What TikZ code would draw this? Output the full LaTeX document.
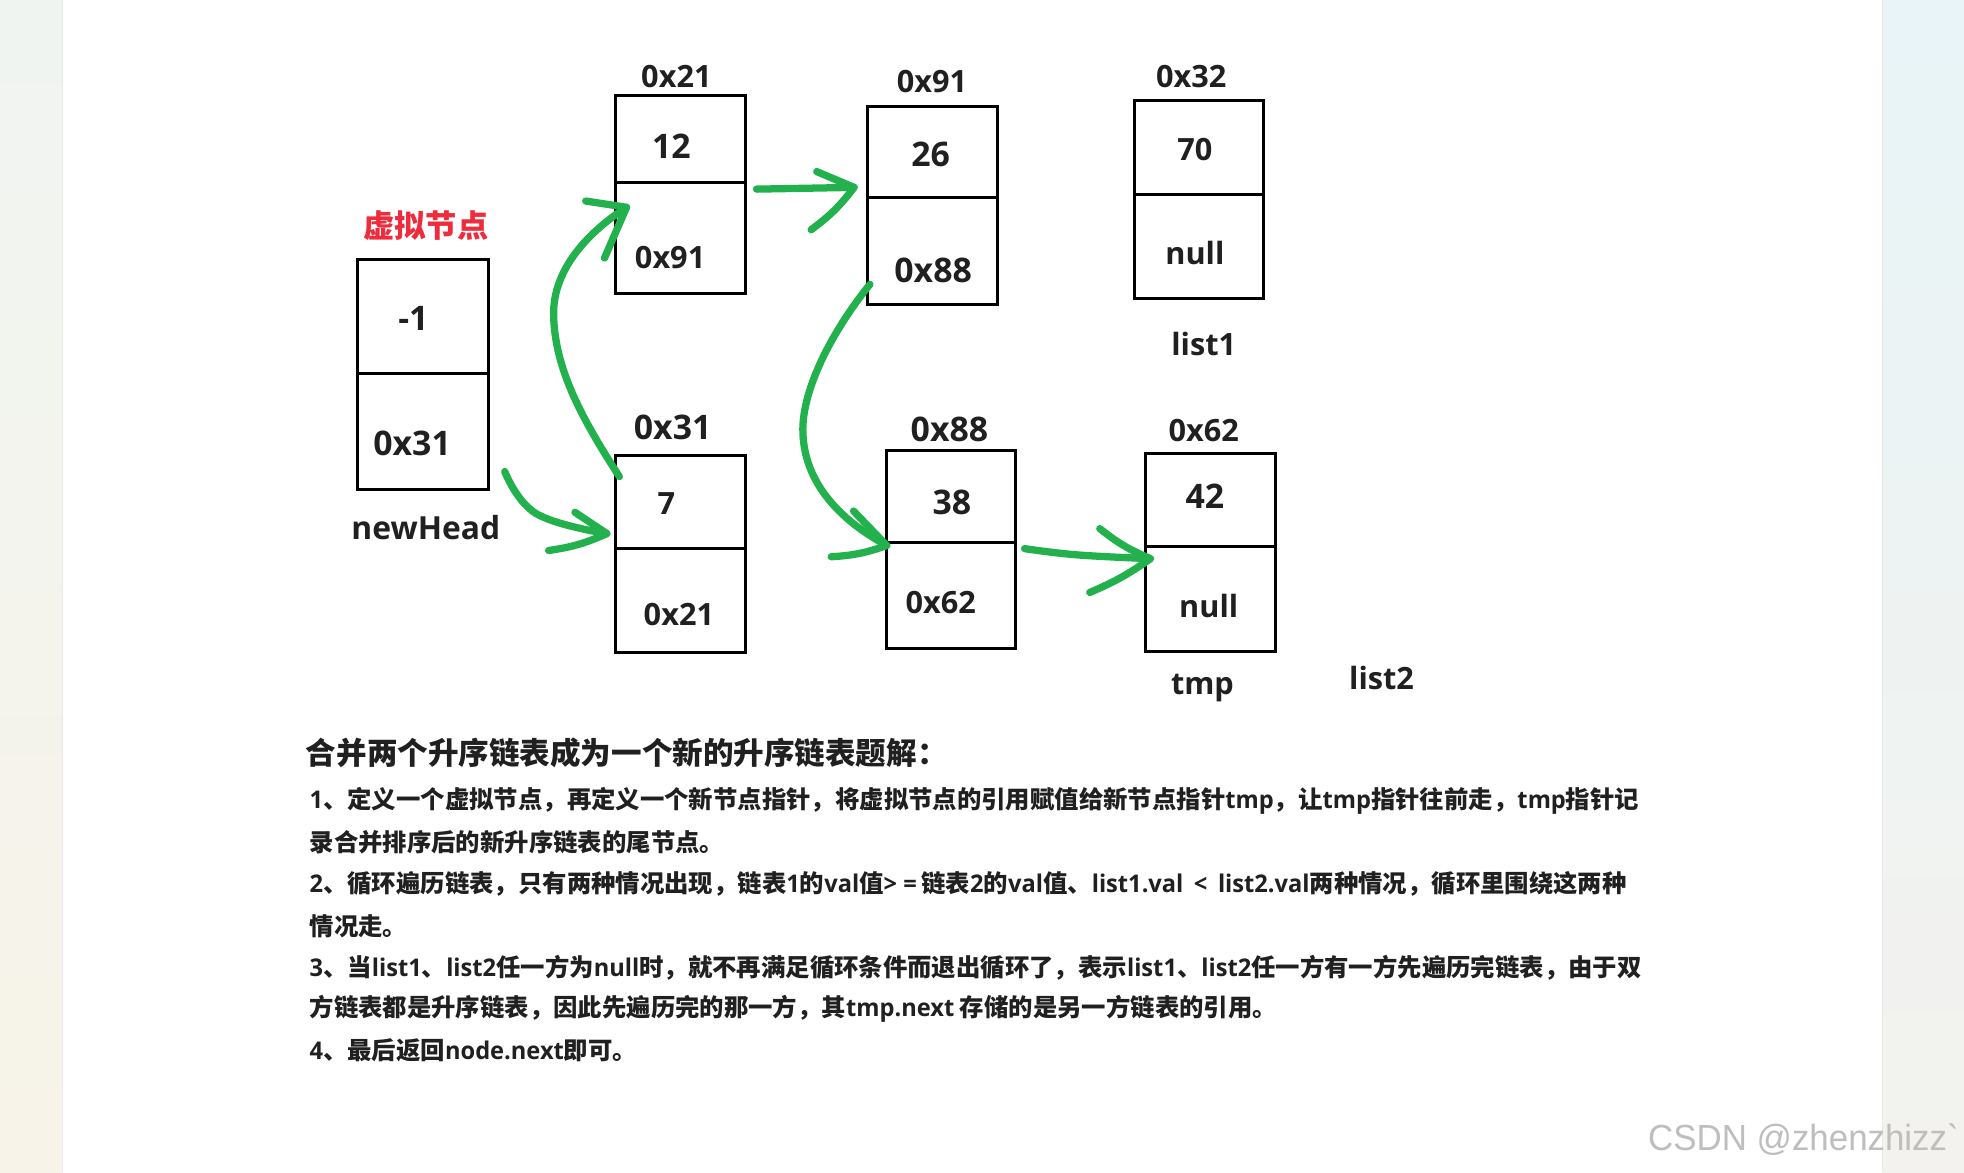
\documentclass[tikz,border=0pt]{standalone}
\usepackage{fontspec}
\setmainfont{Open Sans}
\newfontfamily\cjk{Noto Sans CJK SC}
\newfontfamily\latn[FakeStretch=0.97]{Open Sans}
\newfontfamily\wmfont[FakeStretch=0.96]{Liberation Sans}
\usetikzlibrary{calc}
\definecolor{arrowgreen}{RGB}{34,177,76}
\definecolor{inkdark}{RGB}{32,32,32}
\definecolor{vred}{RGB}{238,44,60}
\definecolor{wmgrey}{RGB}{190,190,190}
\definecolor{edgegrey}{RGB}{232,232,230}
\newcommand\E[1]{{\latn #1}}
% name, x1, x2, ytop, ydiv, ybot
\newcommand\listbox[6]{%
  \node[cell,minimum width={(#3-#2)*1pt},minimum height={(#5-#4)*1pt}] (#1v) at ({(#2+#3)/2},{(#4+#5)/2}) {};
  \node[cell,minimum width={(#3-#2)*1pt},minimum height={(#6-#5)*1pt}] (#1n) at ({(#2+#3)/2},{(#5+#6)/2}) {};
}
\tikzset{
  cell/.style={draw=black,line width=2.4pt,rectangle,inner sep=0pt,outer sep=0pt},
  lab/.style={font=\fontsize{24.5}{28}\selectfont\bfseries,text=inkdark,inner sep=0pt},
  labbig/.style={font=\fontsize{27}{30}\selectfont\bfseries,text=inkdark,inner sep=0pt},
  head/.style={font=\fontsize{24.4}{30}\selectfont\bfseries\cjk,text=inkdark,inner sep=0pt,anchor=west},
  body/.style={font=\fontsize{19.47}{24}\selectfont\bfseries\cjk,text=inkdark,inner sep=0pt,anchor=west},
  greenline/.style={draw=arrowgreen,line width=5.8pt,line cap=round,line join=round},
}
\begin{document}
\begin{tikzpicture}[x=1pt,y=-1pt]
\useasboundingbox (0,0) rectangle (1568,935.7);
\fill[white] (0,0) rectangle (1568,935.7);
\shade[top color={rgb,255:red,240;green,244;blue,241},bottom color={rgb,255:red,247;green,243;blue,232}] (0,0) rectangle (50,935.7);
\shade[top color={rgb,255:red,232;green,244;blue,247},bottom color={rgb,255:red,243;green,242;blue,238}] (1503,0) rectangle (1568,935.7);
\draw[edgegrey,line width=.8pt] (50,0) -- (50,935.7) (1503,0) -- (1503,935.7);

\listbox{A}{285.5}{390}{207}{298}{391}
\listbox{B}{491.5}{595}{76}{146}{234}
\listbox{C}{491.5}{595}{364}{438}{521}
\listbox{D}{692.5}{796}{85}{158}{243}
\listbox{E}{905.5}{1009}{80}{155}{238}
\listbox{F}{708}{811}{360}{433}{518}
\listbox{G}{914.5}{1018}{362}{436}{520}

\node[lab] (l1) at (540,61) {0x21};
\node[labbig] (l2) at (536,117) {12};
\node[lab] (l3) at (535,206) {0x91};
\node[font=\fontsize{25}{28}\selectfont\bfseries\cjk,text=vred,inner sep=0pt] (l4) at (340,180) {虚拟节点};
\node[labbig] (l5) at (330,254) {-1};
\node[labbig] (l6) at (329,354) {0x31};
\node[lab,font=\fontsize{25.4}{28}\selectfont\bfseries] (l7) at (340,421) {newHead};
\node[labbig] (l8) at (537,341) {0x31};
\node[lab] (l9) at (532,402) {7};
\node[lab] (l10) at (542,491) {0x21};
\node[lab] (l11) at (744,65) {0x91};
\node[labbig] (l12) at (743,123) {26};
\node[labbig] (l13) at (745,216) {0x88};
\node[lab] (l14) at (951,61) {0x32};
\node[lab] (l15) at (954,119) {70};
\node[lab] (l16) at (954,202) {null};
\node[lab] (l17) at (961,275) {list1};
\node[labbig] (l18) at (758,343) {0x88};
\node[labbig] (l19) at (760,401) {38};
\node[lab] (l20) at (751,481) {0x62};
\node[lab] (l21) at (961,344) {0x62};
\node[labbig] (l22) at (962,396) {42};
\node[lab] (l23) at (965,484) {null};
\node[lab] (l24) at (960,549.5) {tmp};
\node[lab] (l25) at (1103,541.5) {list2};

% arrow 1: newHead -> 7
\coordinate (a1s) at ([shift={(13,-14.5)}]An.south east);
\coordinate (a1m) at (428,410);
\coordinate (a1t) at ([shift={(-7,25)}]Cv.west);
\coordinate (a1u) at (459,409);
\coordinate (a1d) at (438,439.5);
\draw[greenline] plot[smooth,tension=.7] coordinates {(a1s) (a1m) (a1t)};
\draw[greenline] (a1u) -- (a1t) to[bend left=8] (a1d);
% arrow 2: 7 -> 12
\coordinate (a2s) at ([shift={(3,16.5)}]Cv.north west);
\coordinate (a2c) at (442,252);
\coordinate (a2t) at ([shift={(8.7,19.5)}]Bn.north west);
\coordinate (a2u) at (467.6,160.5);
\coordinate (a2v) at (482.6,206);
\draw[greenline] (a2s) .. controls (465,335) and (443,295) .. (a2c) .. controls (441,215) and (470,185) .. (a2t);
\draw[greenline] (a2u) -- (a2t) -- (a2v);
% arrow 3: 12 -> 26
\coordinate (a3s) at ([shift={(9,5)}]Bn.north east);
\coordinate (a3t) at ([shift={(-10.6,-8.4)}]Dn.north west);
\coordinate (a3u) at (652,137);
\coordinate (a3v) at (647.6,183.4);
\draw[greenline] (a3s) -- (a3t);
\draw[greenline] (a3u) -- (a3t) to[bend left=8] (a3v);
% arrow 4: 26 -> 38
\coordinate (a4s) at ([shift={(2,-16)}]Dn.south west);
\coordinate (a4c) at (641,345);
\coordinate (a4t) at ([shift={(0,2.5)}]Fv.south west);
\coordinate (a4u) at (681.4,408);
\coordinate (a4v) at (663.6,444.5);
\draw[greenline] (a4s) .. controls (660,270) and (640,315) .. (a4c) .. controls (642,385) and (670,415) .. (a4t);
\draw[greenline] (a4u) -- (a4t) to[bend left=8] (a4v);
% arrow 5: 38 -> 42
\coordinate (a5s) at ([shift={(7,5)}]Fn.north east);
\coordinate (a5m) at (860,443);
\coordinate (a5t) at ([shift={(4,10)}]Gn.north west);
\coordinate (a5u) at (878,422);
\coordinate (a5v) at (870,473);
\draw[greenline] plot[smooth,tension=.7] coordinates {(a5s) (a5m) (a5t)};
\draw[greenline] (a5u) to[bend right=8] (a5t) to[bend left=6] (a5v);

\node[head] (t0) at (244,601) {合并两个升序链表成为一个新的升序链表题解：};
\node[body] (t1) at (247,639.7) {\E{1}、定义一个虚拟节点，再定义一个新节点指针，将虚拟节点的引用赋值给新节点指针\E{tmp}，让\E{tmp}指针往前走，\E{tmp}指针记};
\node[body] (t2) at (247,672.7) {录合并排序后的新升序链表的尾节点。};
\node[body] (t3) at (247,705.7) {\E{2}、循环遍历链表，只有两种情况出现，链表\E{1}的\E{val}值\E{>\hspace{5pt}=\hspace{3.5pt}}链表\E{2}的\E{val}值、\E{list1.val\hspace{3.5pt} < \hspace{3.5pt}list2.val}两种情况，循环里围绕这两种};
\node[body] (t4) at (247,739.7) {情况走。};
\node[body] (t5) at (247,772.7) {\E{3}、当\E{list1}、\E{list2}任一方为\E{null}时，就不再满足循环条件而退出循环了，表示\E{list1}、\E{list2}任一方有一方先遍历完链表，由于双};
\node[body] (t6) at (247,805.7) {方链表都是升序链表，因此先遍历完的那一方，其\E{tmp.next} 存储的是另一方链表的引用。};
\node[body] (t7) at (247,838.7) {\E{4}、最后返回\E{node.next}即可。};

\node[font=\fontsize{29}{32}\selectfont\wmfont,text=wmgrey,inner sep=0pt,anchor=east] (wm) at (1564,910) {CSDN @zhenzhizz`};
\end{tikzpicture}
\end{document}
